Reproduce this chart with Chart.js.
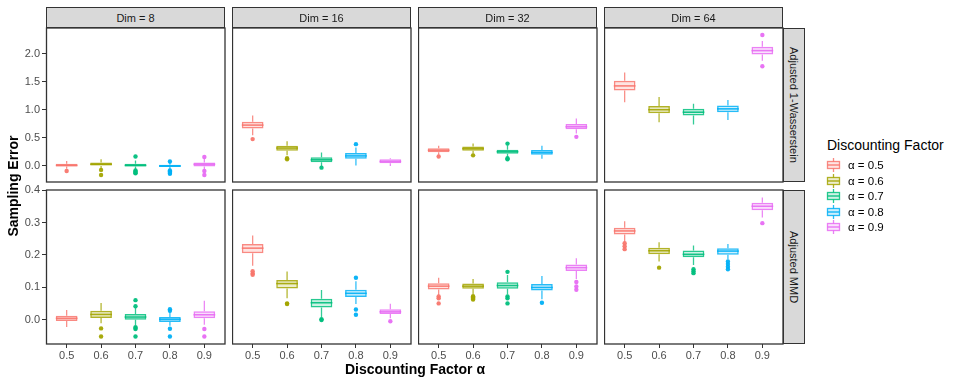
<!DOCTYPE html>
<html>
<head>
<meta charset="utf-8">
<script src="https://cdn.jsdelivr.net/npm/chart.js@4/dist/chart.umd.min.js"></script>
<style>
  body { margin: 0; background: #fff; width: 959px; height: 384px; position: relative; overflow: hidden;
         font-family: "Liberation Sans", Arial, sans-serif; }
  .strip { position: absolute; background: #d9d9d9; border: 1px solid #333; box-sizing: border-box;
           color: #1a1a1a; font-size: 11px; display: flex; align-items: center; justify-content: center; }
  .vstrip { writing-mode: vertical-rl; }
  .title { position: absolute; font-weight: bold; font-size: 14px; color: #000; text-align: center; white-space: nowrap; }
  .legend-title { position: absolute; left: 827px; top: 137px; font-size: 14px; color: #000; }
  .legend-row { position: absolute; left: 825px; height: 16px; display: flex; align-items: center; font-size: 11.5px; color: #000; }
  .legend-row canvas { margin-right: 6px; }
</style>
</head>
<body>
<script>
// categories / labels
const alphas = ['0.5', '0.6', '0.7', '0.8', '0.9'];
const dimLabels = ['Dim = 8', 'Dim = 16', 'Dim = 32', 'Dim = 64'];
const metricLabels = ['Adjusted 1-Wasserstein', 'Adjusted MMD'];
const wassTicks = [0, 0.5, 1.0, 1.5, 2.0];
const mmdTicks = [0, 0.1, 0.2, 0.3, 0.4];

// box stats per alpha: [lower whisker, q1, median, q3, upper whisker]
const wass8 = [[-0.05, -0.01, 0.01, 0.04, 0.09], [-0.05, 0.00, 0.03, 0.06, 0.12], [-0.06, -0.01, 0.01, 0.04, 0.10], [-0.06, -0.02, 0.00, 0.02, 0.06], [-0.06, -0.01, 0.03, 0.06, 0.13]];
const wass8Out = [[-0.09], [-0.07, -0.16], [0.17, -0.08, -0.10, -0.12, -0.13], [0.08, -0.08, -0.10, -0.12, -0.14], [0.16, -0.09, -0.16]];
const wass16 = [[0.55, 0.67, 0.73, 0.79, 0.90], [0.19, 0.27, 0.32, 0.36, 0.44], [0.00, 0.065, 0.11, 0.155, 0.24], [0.01, 0.13, 0.18, 0.23, 0.33], [0.00, 0.05, 0.08, 0.12, 0.14]];
const wass16Out = [[0.48], [0.14, 0.12], [-0.03], [0.39], []];
const wass32 = [[0.20, 0.245, 0.28, 0.315, 0.36], [0.22, 0.27, 0.31, 0.35, 0.40], [0.15, 0.22, 0.255, 0.29, 0.37], [0.13, 0.20, 0.24, 0.285, 0.36], [0.58, 0.655, 0.70, 0.75, 0.85]];
const wass32Out = [[0.17], [0.19], [0.40, 0.12, 0.14], [], [0.52]];
const wass64 = [[1.14, 1.35, 1.43, 1.52, 1.67], [0.78, 0.94, 1.005, 1.07, 1.23], [0.74, 0.90, 0.96, 1.02, 1.11], [0.82, 0.96, 1.02, 1.08, 1.18], [1.88, 1.99, 2.06, 2.13, 2.23]];
const wass64Out = [[], [], [], [], [2.34, 1.78]];

const mmd8 = [[-0.022, -0.003, 0.005, 0.013, 0.031], [-0.010, 0.006, 0.017, 0.028, 0.052], [-0.016, 0.001, 0.009, 0.018, 0.038], [-0.018, -0.006, 0.002, 0.009, 0.025], [-0.015, 0.005, 0.016, 0.027, 0.059]];
const mmd8Out = [[], [-0.026, -0.051], [0.061, 0.042, -0.022, -0.025, -0.028, -0.051], [0.033, 0.028, -0.027, -0.051], [-0.028, -0.051]];
const mmd16 = [[0.167, 0.205, 0.221, 0.234, 0.260], [0.067, 0.097, 0.112, 0.123, 0.149], [0.008, 0.038, 0.053, 0.065, 0.092], [0.049, 0.071, 0.082, 0.093, 0.119], [0.005, 0.018, 0.025, 0.033, 0.050]];
const mmd16Out = [[0.150, 0.143, 0.139], [0.049, 0.051], [0.000, 0.002], [0.130, 0.032, 0.016], [-0.004]];
const mmd32 = [[0.077, 0.094, 0.104, 0.113, 0.130], [0.078, 0.096, 0.104, 0.112, 0.126], [0.078, 0.096, 0.106, 0.116, 0.138], [0.064, 0.091, 0.100, 0.111, 0.135], [0.126, 0.151, 0.161, 0.171, 0.190]];
const mmd32Out = [[0.072, 0.067, 0.051], [0.073, 0.070, 0.066, 0.063], [0.148, 0.072, 0.067, 0.051], [0.053], [0.117, 0.103, 0.093]];
const mmd64 = [[0.241, 0.263, 0.274, 0.284, 0.304], [0.180, 0.202, 0.213, 0.222, 0.239], [0.169, 0.193, 0.202, 0.214, 0.229], [0.187, 0.201, 0.212, 0.221, 0.234], [0.315, 0.338, 0.350, 0.361, 0.377]];
const mmd64Out = [[0.236, 0.227, 0.218], [0.161], [0.156, 0.150, 0.144], [0.180, 0.172, 0.164, 0.156], [0.298]];

const hues = ['#F8766D', '#A3A500', '#00BF7D', '#00B0F6', '#E76BF3'];

// layout of the facet grid
const PANEL_X = [46, 232, 418, 604];
const PANEL_Y = [28, 190];
const PANEL_W = 179, PANEL_H = 154;

const rowStats = [[wass8, wass16, wass32, wass64], [mmd8, mmd16, mmd32, mmd64]];
const rowOuts = [[wass8Out, wass16Out, wass32Out, wass64Out], [mmd8Out, mmd16Out, mmd32Out, mmd64Out]];
const rowTicks = [wassTicks, mmdTicks];
const rowRange = [[-0.286, 2.464], [-0.074, 0.40]];

function rgba(hex, a) {
    const n = parseInt(hex.slice(1), 16);
    return `rgba(${n >> 16},${(n >> 8) & 255},${n & 255},${a})`;
}

// whiskers under the boxes, medians on top, panel border last
const boxParts = {
    id: 'boxParts',
    beforeDatasetsDraw(chart) {
        const stats = chart.options.plugins.boxParts.stats;
        const y = chart.scales.y, ctx = chart.ctx;
        const meta = chart.getDatasetMeta(0);
        ctx.save();
        ctx.lineWidth = 1.3;
        stats.forEach((s, i) => {
            const bar = meta.data[i];
            ctx.strokeStyle = rgba(hues[i], 0.8);
            ctx.beginPath();
            ctx.moveTo(bar.x, y.getPixelForValue(s[0]));
            ctx.lineTo(bar.x, y.getPixelForValue(s[1]));
            ctx.moveTo(bar.x, y.getPixelForValue(s[3]));
            ctx.lineTo(bar.x, y.getPixelForValue(s[4]));
            ctx.stroke();
        });
        ctx.restore();
    },
    afterDatasetDraw(chart, args) {
        if (args.index !== 0) return;
        const stats = chart.options.plugins.boxParts.stats;
        const y = chart.scales.y, ctx = chart.ctx;
        const meta = chart.getDatasetMeta(0);
        ctx.save();
        ctx.lineWidth = 1.6;
        stats.forEach((s, i) => {
            const bar = meta.data[i];
            const py = y.getPixelForValue(s[2]);
            ctx.strokeStyle = rgba(hues[i], 0.9);
            ctx.beginPath();
            ctx.moveTo(bar.x - bar.width / 2, py);
            ctx.lineTo(bar.x + bar.width / 2, py);
            ctx.stroke();
        });
        ctx.restore();
    },
    afterDraw(chart) {
        const a = chart.chartArea, ctx = chart.ctx;
        ctx.save();
        ctx.strokeStyle = '#333333';
        ctx.lineWidth = 1.3;
        ctx.strokeRect(a.left + 0.5, a.top, a.right - a.left - 0.5, a.bottom - a.top);
        ctx.restore();
    }
};

function panelChart(row, col) {
    const stats = rowStats[row][col];
    const outs = rowOuts[row][col];
    const L = col === 0 ? 46 : 0, T = 10, R = 4, B = row === 1 ? 24 : 10;

    const cv = document.createElement('canvas');
    cv.width = L + PANEL_W + R;
    cv.height = T + PANEL_H + B;
    cv.style.cssText = `position:absolute;left:${PANEL_X[col] - L}px;top:${PANEL_Y[row] - T}px;width:${cv.width}px;height:${cv.height}px`;
    document.body.appendChild(cv);

    const boxes = stats.map((s, i) => ({ x: i + 1, y: [s[1], s[3]] }));
    const points = [], pointColors = [];
    outs.forEach((arr, i) => arr.forEach(v => { points.push({ x: i + 1, y: v }); pointColors.push(rgba(hues[i], 0.95)); }));

    const tickFont = { family: '"Liberation Sans", Arial, sans-serif', size: 11 };
    const gridOpts = { display: true, drawOnChartArea: false, drawTicks: true, tickLength: 4, color: '#333333', lineWidth: 1 };

    new Chart(cv.getContext('2d'), {
        type: 'bar',
        data: {
            datasets: [
                {
                    type: 'bar',
                    data: boxes,
                    backgroundColor: hues.map(h => rgba(h, 0.2)),
                    borderColor: hues.map(h => rgba(h, 0.85)),
                    borderWidth: 1.5,
                    borderSkipped: false,
                    categoryPercentage: 0.63,
                    barPercentage: 1
                },
                {
                    type: 'scatter',
                    data: points,
                    pointRadius: 2.2,
                    pointBorderWidth: 0,
                    pointBackgroundColor: pointColors,
                    pointBorderColor: pointColors
                }
            ]
        },
        options: {
            responsive: false,
            animation: false,
            devicePixelRatio: 1,
            layout: { autoPadding: false, padding: { left: 0, top: T, right: R, bottom: row === 1 ? 0 : B } },
            scales: {
                x: {
                    type: 'linear',
                    offset: false,
                    min: 0.4,
                    max: 5.6,
                    display: row === 1,
                    afterFit: s => { s.height = row === 1 ? 24 : 0; },
                    afterBuildTicks: s => { s.ticks = [1, 2, 3, 4, 5].map(v => ({ value: v })); },
                    ticks: { callback: v => alphas[v - 1], color: '#4d4d4d', font: tickFont, padding: 1, maxRotation: 0, autoSkip: false },
                    grid: Object.assign({ offset: false }, gridOpts),
                    border: { display: false }
                },
                y: {
                    type: 'linear',
                    min: rowRange[row][0],
                    max: rowRange[row][1],
                    display: col === 0,
                    afterFit: s => { s.width = col === 0 ? 46 : 0; },
                    afterBuildTicks: s => { s.ticks = rowTicks[row].map(v => ({ value: v })); },
                    ticks: { callback: v => v.toFixed(1), color: '#4d4d4d', font: tickFont, padding: 2 },
                    grid: gridOpts,
                    border: { display: false }
                }
            },
            plugins: {
                legend: { display: false },
                tooltip: { enabled: false },
                boxParts: { stats: stats }
            }
        },
        plugins: [boxParts]
    });
}

for (let r = 0; r < 2; r++) {
    for (let c = 0; c < 4; c++) panelChart(r, c);
}

// facet strips
dimLabels.forEach((lab, c) => {
    const d = document.createElement('div');
    d.className = 'strip';
    d.style.cssText = `left:${PANEL_X[c]}px;top:7px;width:${PANEL_W}px;height:21px;`;
    d.textContent = lab;
    document.body.appendChild(d);
});
metricLabels.forEach((lab, r) => {
    const d = document.createElement('div');
    d.className = 'strip vstrip';
    d.style.cssText = `left:783px;top:${PANEL_Y[r]}px;width:22px;height:${PANEL_H}px;`;
    d.textContent = lab;
    document.body.appendChild(d);
});

// axis titles
const yTitle = document.createElement('div');
yTitle.className = 'title';
yTitle.style.cssText = 'left:-137px;top:176px;width:300px;height:20px;line-height:20px;transform:rotate(-90deg);';
yTitle.textContent = 'Sampling Error';
document.body.appendChild(yTitle);

const xTitle = document.createElement('div');
xTitle.className = 'title';
xTitle.style.cssText = 'left:265px;top:360px;width:300px;height:18px;line-height:18px;';
xTitle.textContent = 'Discounting Factor α';
document.body.appendChild(xTitle);

// legend
const legTitle = document.createElement('div');
legTitle.className = 'legend-title';
legTitle.textContent = 'Discounting Factor';
document.body.appendChild(legTitle);

alphas.forEach((a, i) => {
    const row = document.createElement('div');
    row.className = 'legend-row';
    row.style.top = (157 + i * 15.5) + 'px';
    const key = document.createElement('canvas');
    key.width = 17; key.height = 16;
    const k = key.getContext('2d');
    k.strokeStyle = rgba(hues[i], 0.85);
    k.fillStyle = rgba(hues[i], 0.2);
    k.lineWidth = 1.3;
    k.fillRect(2.5, 4.5, 12, 7);
    k.strokeRect(2.5, 4.5, 12, 7);
    k.beginPath();
    k.moveTo(2.5, 8); k.lineTo(14.5, 8);
    k.moveTo(8.5, 1); k.lineTo(8.5, 4.5);
    k.moveTo(8.5, 11.5); k.lineTo(8.5, 15);
    k.stroke();
    row.appendChild(key);
    const t = document.createElement('span');
    t.textContent = 'α = ' + a;
    row.appendChild(t);
    document.body.appendChild(row);
});
</script>
</body>
</html>
